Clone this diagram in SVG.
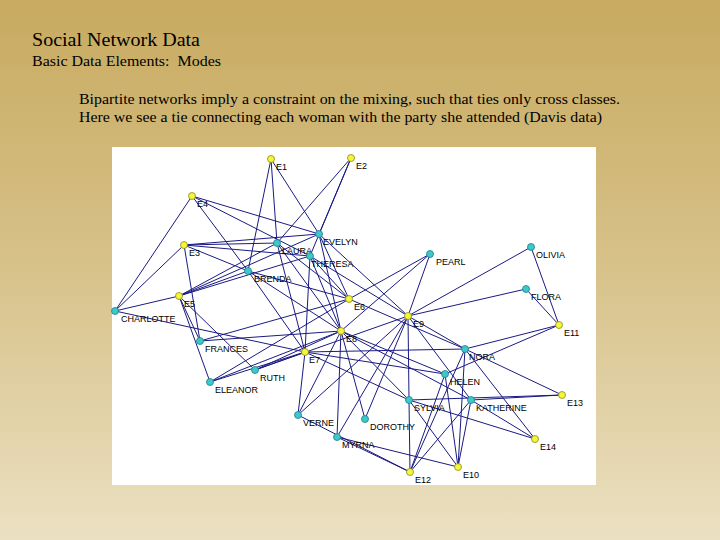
<svg xmlns="http://www.w3.org/2000/svg" width="720" height="540" viewBox="0 0 720 540">
<defs>
<linearGradient id="bg" x1="0" y1="0" x2="0" y2="1">
<stop offset="0" stop-color="#c8aa60"/>
<stop offset="0.5" stop-color="#d7c28a"/>
<stop offset="1" stop-color="#ebe0c2"/>
</linearGradient>
<style>
.t{font-family:"Liberation Serif","Times New Roman",serif;fill:#000}
.e line{stroke:#1a1a84;stroke-width:1}
.ev{fill:#f5f53a;stroke:#8a8a1a;stroke-width:0.8}
.wm{fill:#3cc8cc;stroke:#1f7f86;stroke-width:0.8}
.lb{font-family:"Liberation Sans",Arial,sans-serif;font-size:9px;fill:#000}
</style>
</defs>
<rect x="0" y="0" width="720" height="540" fill="url(#bg)"/>
<text class="t" x="32" y="46" font-size="18" textLength="168" lengthAdjust="spacingAndGlyphs">Social Network Data</text>
<text class="t" x="32" y="66" font-size="15" textLength="189" lengthAdjust="spacingAndGlyphs" xml:space="preserve">Basic Data Elements:  Modes</text>
<text class="t" x="79" y="104" font-size="15" textLength="541" lengthAdjust="spacingAndGlyphs">Bipartite networks imply a constraint on the mixing, such that ties only cross classes.</text>
<text class="t" x="79" y="122" font-size="15" textLength="523" lengthAdjust="spacingAndGlyphs">Here we see a tie connecting each woman with the party she attended (Davis data)</text>
<rect x="112" y="147" width="484" height="338" fill="#ffffff"/>
<g id="connectors" class="e">
<!-- Evelyn -->
<line x1="319" y1="234" x2="271" y2="159"/><line x1="319" y1="234" x2="351" y2="158"/><line x1="319" y1="234" x2="184" y2="245"/><line x1="319" y1="234" x2="192" y2="196"/><line x1="319" y1="234" x2="179" y2="296"/><line x1="319" y1="234" x2="349" y2="299"/><line x1="319" y1="234" x2="341" y2="331"/><line x1="319" y1="234" x2="408" y2="316"/>
<!-- Laura -->
<line x1="277" y1="243" x2="271" y2="159"/><line x1="277" y1="243" x2="351" y2="158"/><line x1="277" y1="243" x2="184" y2="245"/><line x1="277" y1="243" x2="179" y2="296"/><line x1="277" y1="243" x2="349" y2="299"/><line x1="277" y1="243" x2="305" y2="352"/><line x1="277" y1="243" x2="341" y2="331"/>
<!-- Theresa -->
<line x1="310" y1="256" x2="351" y2="158"/><line x1="310" y1="256" x2="184" y2="245"/><line x1="310" y1="256" x2="192" y2="196"/><line x1="310" y1="256" x2="179" y2="296"/><line x1="310" y1="256" x2="349" y2="299"/><line x1="310" y1="256" x2="305" y2="352"/><line x1="310" y1="256" x2="341" y2="331"/><line x1="310" y1="256" x2="408" y2="316"/>
<!-- Brenda -->
<line x1="248" y1="271" x2="271" y2="159"/><line x1="248" y1="271" x2="184" y2="245"/><line x1="248" y1="271" x2="192" y2="196"/><line x1="248" y1="271" x2="179" y2="296"/><line x1="248" y1="271" x2="349" y2="299"/><line x1="248" y1="271" x2="305" y2="352"/><line x1="248" y1="271" x2="341" y2="331"/>
<!-- Charlotte -->
<line x1="115" y1="311" x2="184" y2="245"/><line x1="115" y1="311" x2="192" y2="196"/><line x1="115" y1="311" x2="179" y2="296"/><line x1="115" y1="311" x2="305" y2="352"/>
<!-- Frances -->
<line x1="200" y1="341" x2="184" y2="245"/><line x1="200" y1="341" x2="179" y2="296"/><line x1="200" y1="341" x2="349" y2="299"/><line x1="200" y1="341" x2="341" y2="331"/>
<!-- Eleanor -->
<line x1="210" y1="382" x2="179" y2="296"/><line x1="210" y1="382" x2="349" y2="299"/><line x1="210" y1="382" x2="305" y2="352"/><line x1="210" y1="382" x2="341" y2="331"/>
<!-- Pearl -->
<line x1="430" y1="254" x2="349" y2="299"/><line x1="430" y1="254" x2="341" y2="331"/><line x1="430" y1="254" x2="408" y2="316"/>
<!-- Ruth -->
<line x1="255" y1="370" x2="179" y2="296"/><line x1="255" y1="370" x2="305" y2="352"/><line x1="255" y1="370" x2="341" y2="331"/><line x1="255" y1="370" x2="408" y2="316"/>
<!-- Verne -->
<line x1="298" y1="415" x2="305" y2="352"/><line x1="298" y1="415" x2="341" y2="331"/><line x1="298" y1="415" x2="408" y2="316"/><line x1="298" y1="415" x2="410" y2="472"/>
<!-- Myrna -->
<line x1="337" y1="437" x2="341" y2="331"/><line x1="337" y1="437" x2="408" y2="316"/><line x1="337" y1="437" x2="458" y2="467"/><line x1="337" y1="437" x2="410" y2="472"/>
<!-- Katherine -->
<line x1="471" y1="400" x2="341" y2="331"/><line x1="471" y1="400" x2="408" y2="316"/><line x1="471" y1="400" x2="458" y2="467"/><line x1="471" y1="400" x2="410" y2="472"/><line x1="471" y1="400" x2="562" y2="395"/><line x1="471" y1="400" x2="535" y2="439"/>
<!-- Sylvia -->
<line x1="409" y1="400" x2="305" y2="352"/><line x1="409" y1="400" x2="341" y2="331"/><line x1="409" y1="400" x2="408" y2="316"/><line x1="409" y1="400" x2="458" y2="467"/><line x1="409" y1="400" x2="410" y2="472"/><line x1="409" y1="400" x2="562" y2="395"/><line x1="409" y1="400" x2="535" y2="439"/>
<!-- Nora -->
<line x1="465" y1="349" x2="349" y2="299"/><line x1="465" y1="349" x2="305" y2="352"/><line x1="465" y1="349" x2="408" y2="316"/><line x1="465" y1="349" x2="458" y2="467"/><line x1="465" y1="349" x2="559" y2="325"/><line x1="465" y1="349" x2="410" y2="472"/><line x1="465" y1="349" x2="562" y2="395"/><line x1="465" y1="349" x2="535" y2="439"/>
<!-- Helen -->
<line x1="445" y1="374" x2="305" y2="352"/><line x1="445" y1="374" x2="341" y2="331"/><line x1="445" y1="374" x2="458" y2="467"/><line x1="445" y1="374" x2="559" y2="325"/><line x1="445" y1="374" x2="410" y2="472"/>
<!-- Dorothy -->
<line x1="365" y1="419" x2="341" y2="331"/><line x1="365" y1="419" x2="408" y2="316"/>
<!-- Olivia -->
<line x1="531" y1="247" x2="408" y2="316"/><line x1="531" y1="247" x2="559" y2="325"/>
<!-- Flora -->
<line x1="526" y1="289" x2="408" y2="316"/><line x1="526" y1="289" x2="559" y2="325"/>
</g>
<g id="E1"><circle class="ev" cx="271" cy="159" r="3.5"/><text class="lb" x="276" y="170">E1</text></g>
<g id="E2"><circle class="ev" cx="351" cy="158" r="3.5"/><text class="lb" x="356" y="169">E2</text></g>
<g id="E3"><circle class="ev" cx="184" cy="245" r="3.5"/><text class="lb" x="189" y="256">E3</text></g>
<g id="E4"><circle class="ev" cx="192" cy="196" r="3.5"/><text class="lb" x="197" y="207">E4</text></g>
<g id="E5"><circle class="ev" cx="179" cy="296" r="3.5"/><text class="lb" x="184" y="307">E5</text></g>
<g id="E6"><circle class="ev" cx="349" cy="299" r="3.5"/><text class="lb" x="354" y="310">E6</text></g>
<g id="E7"><circle class="ev" cx="305" cy="352" r="3.5"/><text class="lb" x="309" y="363">E7</text></g>
<g id="E8"><circle class="ev" cx="341" cy="331" r="3.5"/><text class="lb" x="346" y="342">E8</text></g>
<g id="E9"><circle class="ev" cx="408" cy="316" r="3.5"/><text class="lb" x="413" y="327">E9</text></g>
<g id="E10"><circle class="ev" cx="458" cy="467" r="3.5"/><text class="lb" x="463" y="478">E10</text></g>
<g id="E11"><circle class="ev" cx="559" cy="325" r="3.5"/><text class="lb" x="564" y="336">E11</text></g>
<g id="E12"><circle class="ev" cx="410" cy="472" r="3.5"/><text class="lb" x="415" y="483">E12</text></g>
<g id="E13"><circle class="ev" cx="562" cy="395" r="3.5"/><text class="lb" x="567" y="406">E13</text></g>
<g id="E14"><circle class="ev" cx="535" cy="439" r="3.5"/><text class="lb" x="540" y="450">E14</text></g>
<g id="EVELYN"><circle class="wm" cx="319" cy="234" r="3.5"/><text class="lb" x="323" y="245">EVELYN</text></g>
<g id="LAURA"><circle class="wm" cx="277" cy="243" r="3.5"/><text class="lb" x="282" y="254">LAURA</text></g>
<g id="THERESA"><circle class="wm" cx="310" cy="256" r="3.5"/><text class="lb" x="311" y="267">THERESA</text></g>
<g id="BRENDA"><circle class="wm" cx="248" cy="271" r="3.5"/><text class="lb" x="254" y="282">BRENDA</text></g>
<g id="CHARLOTTE"><circle class="wm" cx="115" cy="311" r="3.5"/><text class="lb" x="121" y="322">CHARLOTTE</text></g>
<g id="FRANCES"><circle class="wm" cx="200" cy="341" r="3.5"/><text class="lb" x="205" y="352">FRANCES</text></g>
<g id="ELEANOR"><circle class="wm" cx="210" cy="382" r="3.5"/><text class="lb" x="215" y="393">ELEANOR</text></g>
<g id="PEARL"><circle class="wm" cx="430" cy="254" r="3.5"/><text class="lb" x="436" y="265">PEARL</text></g>
<g id="RUTH"><circle class="wm" cx="255" cy="370" r="3.5"/><text class="lb" x="260" y="381">RUTH</text></g>
<g id="VERNE"><circle class="wm" cx="298" cy="415" r="3.5"/><text class="lb" x="303" y="426">VERNE</text></g>
<g id="MYRNA"><circle class="wm" cx="337" cy="437" r="3.5"/><text class="lb" x="342" y="448">MYRNA</text></g>
<g id="KATHERINE"><circle class="wm" cx="471" cy="400" r="3.5"/><text class="lb" x="476" y="411">KATHERINE</text></g>
<g id="SYLVIA"><circle class="wm" cx="409" cy="400" r="3.5"/><text class="lb" x="414" y="411">SYLVIA</text></g>
<g id="NORA"><circle class="wm" cx="465" cy="349" r="3.5"/><text class="lb" x="469" y="360">NORA</text></g>
<g id="HELEN"><circle class="wm" cx="445" cy="374" r="3.5"/><text class="lb" x="450" y="385">HELEN</text></g>
<g id="DOROTHY"><circle class="wm" cx="365" cy="419" r="3.5"/><text class="lb" x="370" y="430">DOROTHY</text></g>
<g id="OLIVIA"><circle class="wm" cx="531" cy="247" r="3.5"/><text class="lb" x="536" y="258">OLIVIA</text></g>
<g id="FLORA"><circle class="wm" cx="526" cy="289" r="3.5"/><text class="lb" x="531" y="300">FLORA</text></g>
</svg>
